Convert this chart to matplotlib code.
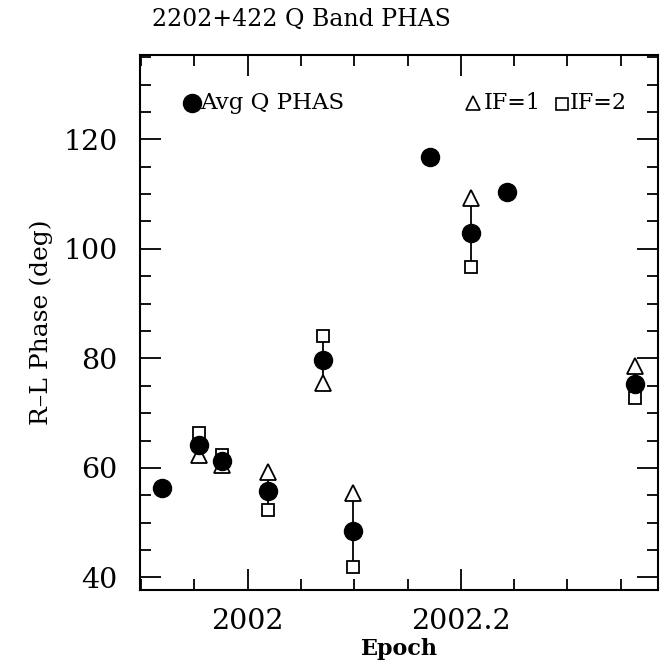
import matplotlib
matplotlib.use("Agg")
import matplotlib.pyplot as plt
from matplotlib.ticker import MultipleLocator, FixedLocator

nan = float('nan')

# Data (IF values not shown for some epochs)
epoch = [2001.920, 2001.954, 2001.976, 2002.019, 2002.071, 2002.099,
         2002.171, 2002.210, 2002.243, 2002.363]
avg_phas = [56.4, 64.2, 61.3, 55.7, 79.7, 48.5, 116.7, 102.9, 110.3, 75.3]
if1_phas = [nan, 62.4, 60.6, 59.3, 75.5, 55.4, nan, 109.2, nan, 78.6]
if2_phas = [nan, 66.3, 62.3, 52.3, 84.1, 41.9, nan, 96.6, nan, 72.7]

title = "2202+422 Q Band PHAS"
xlabel = "Epoch"
ylabel = "R\u2013L Phase (deg)"
xticks = [2002.0, 2002.2]
xticklabels = ["2002", "2002.2"]
yticks = [40, 60, 80, 100, 120]

plt.rcParams['font.family'] = ['DejaVu Serif']

fig = plt.figure(figsize=(6.68, 6.65), dpi=100)
ax = fig.add_axes([140/668, 1-590/665, 518/668, 535/665])

# connecting vertical bars between IF=1 and IF=2
for x, a, b in zip(epoch, if1_phas, if2_phas):
    ax.plot([x, x], [a, b], color='black', lw=1.3, zorder=1)

ax.plot(epoch, if1_phas, linestyle='none', marker='^', ms=11, mfc='white',
        mec='black', mew=1.3, zorder=2)
ax.plot(epoch, if2_phas, linestyle='none', marker='s', ms=9, mfc='white',
        mec='black', mew=1.3, zorder=2)
ax.plot(epoch, avg_phas, linestyle='none', marker='o', ms=13, mfc='black',
        mec='black', zorder=3)

ax.set_xlim(2001.899, 2002.385)
ax.set_ylim(37.7, 135.4)

ax.xaxis.set_major_locator(FixedLocator(xticks))
ax.set_xticklabels(xticklabels)
ax.xaxis.set_minor_locator(MultipleLocator(0.05))
ax.yaxis.set_major_locator(FixedLocator(yticks))
ax.yaxis.set_minor_locator(MultipleLocator(5))

ax.tick_params(which='both', direction='in', top=True, right=True,
               width=1.3, colors='black')
ax.tick_params(which='major', length=15, labelsize=20.5)
ax.tick_params(which='minor', length=8)
ax.tick_params(axis='x', which='major', pad=13)
ax.tick_params(axis='y', which='major', pad=16)
for s in ax.spines.values():
    s.set_linewidth(1.5)

ax.set_xlabel(xlabel, fontsize=16, fontweight='bold')
ax.xaxis.set_label_coords(0.5, -0.09)
ax.set_ylabel(ylabel, fontsize=18)
ax.yaxis.set_label_coords(-0.168, 0.5)

fig.text(152/668, 1-19/665, title, ha='left', va='center', fontsize=17)

# legend drawn as in the original
ax.plot([0.0998], [0.911], transform=ax.transAxes, marker='o', ms=13,
        color='black', linestyle='none', clip_on=False)
ax.text(0.117, 0.911, "Avg Q PHAS", transform=ax.transAxes, ha='left',
        va='center', fontsize=16.5)
ax.plot([0.6434], [0.911], transform=ax.transAxes, marker='^', ms=10,
        mfc='white', mec='black', mew=1.2, linestyle='none')
ax.text(0.664, 0.911, "IF=1", transform=ax.transAxes, ha='left',
        va='center', fontsize=16)
ax.plot([0.814], [0.908], transform=ax.transAxes, marker='s', ms=8,
        mfc='white', mec='black', mew=1.2, linestyle='none')
ax.text(0.829, 0.911, "IF=2", transform=ax.transAxes, ha='left',
        va='center', fontsize=16)

fig.savefig("out.png", dpi=100)
